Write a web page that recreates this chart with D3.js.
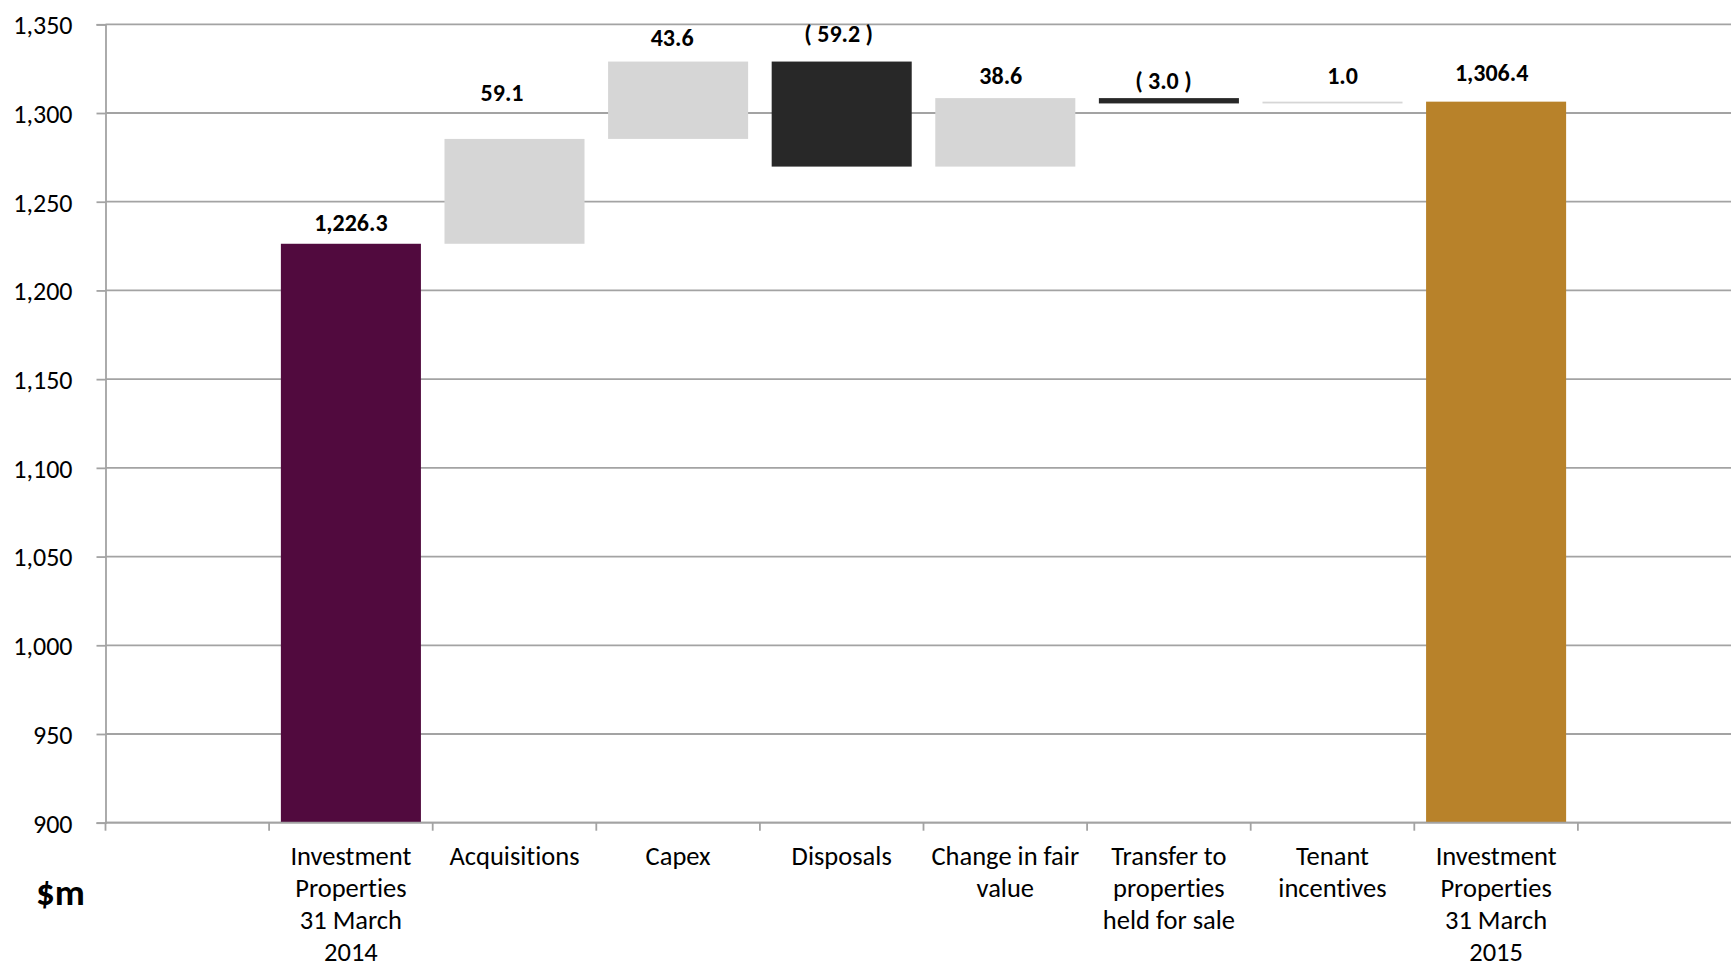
<!DOCTYPE html>
<html>
<head>
<meta charset="utf-8">
<script src="https://cdn.jsdelivr.net/npm/d3@7/dist/d3.min.js"></script>
<style>
  html, body { margin: 0; padding: 0; background: #ffffff; }
  svg { display: block; }
  text { font-family: Carlito, Lato, "Open Sans", sans-serif; fill: #000; font-variant-ligatures: none; }
</style>
</head>
<body>
<svg id="chart" width="1731" height="967"></svg>
<script>
// Investment property movements, FY2014 -> FY2015 ($m)
const categories = [
  "Investment\nProperties\n31 March\n2014",
  "Acquisitions",
  "Capex",
  "Disposals",
  "Change in fair\nvalue",
  "Transfer to\nproperties\nheld for sale",
  "Tenant\nincentives",
  "Investment\nProperties\n31 March\n2015"
];
const values = [1226.3, 59.1, 43.6, -59.2, 38.6, -3.0, 1.0, 1306.4];
const kinds = ["open", "step", "step", "step", "step", "step", "step", "close"];
const yTicks = [900, 950, 1000, 1050, 1100, 1150, 1200, 1250, 1300, 1350];
const yDomain = [900, 1350];

// label placement tweaks (px): horizontal shift and gap between baseline and bar top
const labelDx = [0, -12.5, -6, -3, -4.5, -5.5, 10, -4.5];
const labelGap = [12.7, 37.6, 16, 19.5, 14.5, 9.5, 18, 21];

const colors = {
  open: "#510a3e",
  close: "#b8822a",
  up: "#d6d6d6",
  down: "#282828",
  grid: "#a3a3a3"
};

const svg = d3.select("#chart");
const plot = { left: 105.5, right: 1741.5, top: 24.3, bottom: 822.7 };

// slots: a blank lead slot, the eight categories, and a trailing blank slot
const slots = ["__lead", ...categories, "__trail"];
const x = d3.scaleBand()
  .domain(slots)
  .range([plot.left, plot.right])
  .paddingInner(0.144)
  .paddingOuter(0.072);

const y = d3.scaleLinear().domain(yDomain).range([plot.bottom, plot.top]);

// running totals for the floating bars
let run = 0;
const bars = categories.map((c, i) => {
  const v = values[i];
  let lo, hi, fill;
  if (kinds[i] === "open" || kinds[i] === "close") {
    lo = yDomain[0]; hi = v; run = v;
    fill = kinds[i] === "open" ? colors.open : colors.close;
  } else {
    const start = run, end = run + v;
    run = end;
    lo = Math.min(start, end); hi = Math.max(start, end);
    fill = v >= 0 ? colors.up : colors.down;
  }
  return { c, v, lo, hi, fill, i };
});

// gridlines
svg.append("g")
  .selectAll("line")
  .data(yTicks)
  .join("line")
  .attr("x1", plot.left).attr("x2", plot.right)
  .attr("y1", d => y(d)).attr("y2", d => y(d))
  .attr("stroke", colors.grid)
  .attr("stroke-width", 1.8);

// bars
svg.append("g")
  .selectAll("rect")
  .data(bars)
  .join("rect")
  .attr("x", d => x(d.c))
  .attr("width", x.bandwidth())
  .attr("y", d => y(d.hi))
  .attr("height", d => y(d.lo) - y(d.hi))
  .attr("fill", d => d.fill);

// value labels
const fmtTotal = d3.format(",.1f");
const fmtStep = d3.format(".1f");
const labelText = d => {
  if (kinds[d.i] !== "step") return fmtTotal(d.v);
  return d.v < 0 ? "( " + fmtStep(-d.v) + " )" : fmtStep(d.v);
};
svg.append("g")
  .selectAll("text")
  .data(bars)
  .join("text")
  .attr("x", d => x(d.c) + x.bandwidth() / 2 + labelDx[d.i])
  .attr("y", d => y(d.hi) - labelGap[d.i])
  .attr("text-anchor", "middle")
  .style("font-weight", "700")
  .style("font-size", "24px")
  .text(labelText);

// y axis
const yAxis = d3.axisLeft(y)
  .tickValues(yTicks)
  .tickFormat(d3.format(","))
  .tickSize(9)
  .tickPadding(24);
const gy = svg.append("g").attr("transform", `translate(${plot.left},0)`).call(yAxis);
gy.select(".domain").attr("stroke", colors.grid).attr("stroke-width", 1.8);
gy.selectAll(".tick line").attr("stroke", colors.grid).attr("stroke-width", 1.8);
gy.selectAll(".tick text")
  .style("font-size", "26px")
  .attr("fill", "#000")
  .attr("dy", "0.36em");

// x axis: base line, tick marks between slots, wrapped category labels
svg.append("line")
  .attr("x1", plot.left).attr("x2", plot.right)
  .attr("y1", plot.bottom).attr("y2", plot.bottom)
  .attr("stroke", colors.grid).attr("stroke-width", 1.8);

svg.append("g")
  .selectAll("line")
  .data(d3.range(slots.length + 1))
  .join("line")
  .attr("x1", i => plot.left + i * x.step())
  .attr("x2", i => plot.left + i * x.step())
  .attr("y1", plot.bottom).attr("y2", plot.bottom + 8)
  .attr("stroke", colors.grid).attr("stroke-width", 1.8);

const xl = svg.append("g")
  .selectAll("text")
  .data(categories)
  .join("text")
  .attr("x", c => x(c) + x.bandwidth() / 2)
  .attr("y", 864.5)
  .attr("text-anchor", "middle")
  .style("font-size", "26.5px");
xl.each(function (c) {
  const t = d3.select(this);
  c.split("\n").forEach((line, k) => {
    t.append("tspan")
      .attr("x", x(c) + x.bandwidth() / 2)
      .attr("dy", k === 0 ? 0 : 32)
      .text(line);
  });
});

// unit label
svg.append("text")
  .attr("x", 36)
  .attr("y", 905)
  .style("font-weight", "700")
  .style("font-size", "37px")
  .text("$m");
</script>
</body>
</html>
